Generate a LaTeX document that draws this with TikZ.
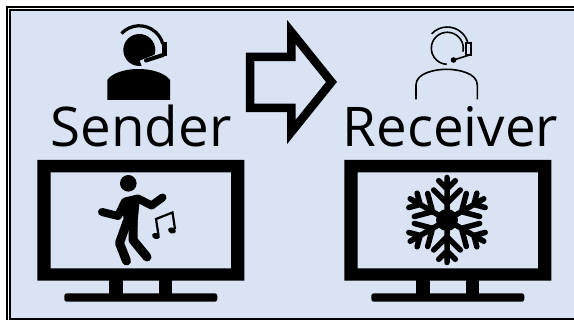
\documentclass[tikz,border=0pt]{standalone}
\usepackage{fontspec}
\setmainfont{Open Sans}
\usepackage{tikz}
\usetikzlibrary{calc}
\definecolor{panelblue}{HTML}{D9E3F3}
\tikzset{
  caption/.style={anchor=base,inner sep=0pt,font=\fontsize{54.7}{60}\selectfont},
  tvset/.pic={
    \fill[black,even odd rule] (37.3,160) rectangle (244.3,280.7) (50.7,172.3) rectangle (231,268.3); % frame of the screen
    \fill[black] (109.3,280) rectangle (122.7,294); % left leg
    \fill[black] (159,280) rectangle (172.3,294); % right leg
    \fill[black,rounded corners=2.5pt] (64.3,293.3) rectangle (217.3,301.7); % foot
  }
}
\begin{document}
\begin{tikzpicture}[x=1pt,y=-1pt]
  \useasboundingbox (0,0) rectangle (574,320);
  \clip (0,0) rectangle (574,320);
  \fill[white] (0,0) rectangle (574,320); % page
  \draw[black,line width=2pt] (7,7) rectangle (590,340); % outer border line
  \draw[black,line width=2pt,fill=panelblue] (10,10) rectangle (590,319); % inner border line and panel

  % sender headset figure
  \fill[black] (139.3,50) circle (16); % head
  \draw[panelblue,line width=7pt] (141,64) -- (161,56); % gap cut out of the head
  \draw[black,line width=3.2pt] (121.5,33.5) arc[start angle=-137,end angle=-15,radius=24.3]; % headband
  \fill[black] (162,42) rectangle (166.5,56.5); % ear cup
  \draw[black,line width=4pt,line cap=round] (163,55) -- (146,60.5); % microphone arm
  \fill[black] (107.3,100) -- (107.3,80) .. controls (112,73) and (125,69) .. (138.3,69) .. controls (152,69) and (165,73) .. (170,80) -- (170,100) -- cycle; % body

  % arrow between the two figures
  \draw[black,line width=8.5pt,miter limit=10] (250,57) -- (291.3,57) -- (291.3,32) -- (331.5,82) -- (291.3,132) -- (291.3,108) -- (250,108) -- cycle; % hollow arrow

  % receiver headset figure
  \draw[black,line width=1.6pt] (462.95,51.6) arc[start angle=12,end angle=-268,radius=16]; % head outline
  \draw[black,line width=1.6pt] (431.7,33.8) arc[start angle=-137,end angle=-15,radius=21.3]; % headband
  \draw[black,line width=1.6pt] (466,43) rectangle (470.7,55); % ear cup
  \draw[black,line width=1.6pt] (469.5,55) -- (453.5,60); % microphone arm
  \fill[black] (453.5,60) circle (2.8); % microphone
  \draw[black,line width=1.6pt] (416,99.5) -- (416,85) .. controls (416,73) and (435,69.3) .. (446.7,69.3) .. controls (458,69.3) and (477.3,73) .. (477.3,85) -- (477.3,99.5); % body outline

  % captions
  \node[caption] (sender) at (141,147) {Sender};
  \node[caption] (receiver) at (450.5,147) {Receiver};

  % television sets
  \pic at (0,0) {tvset};
  \pic at (307,0) {tvset};

  % dancer on the left screen
  \fill[black] (128.3,183.3) circle (8.3); % head
  \fill[black] (122,200) -- (140,197) -- (137,228) -- (124,226) -- cycle; % torso
  \draw[black,line width=8pt,line cap=round,line join=round] (102,212) -- (118,216) -- (125,201.5) -- (138,198.5) -- (151.5,205.5) -- (162.5,197.5); % arms and shoulders
  \draw[black,line width=9pt,line cap=round,line join=round] (127,222) -- (119.5,243) -- (126.5,261); % left leg
  \draw[black,line width=9pt,line cap=round,line join=round] (133,222) -- (133,240) -- (147,257); % right leg
  \draw[black,line width=2.2pt] (158.5,235) -- (156,219) -- (172.5,212.5) -- (175,229); % stems and beam of the note
  \fill[black,rotate around={-20:(156,236)}] (156,236) ellipse (4 and 3); % first note head
  \fill[black,rotate around={-20:(172,230.5)}] (172,230.5) ellipse (4 and 3); % second note head

  % snowflake on the right screen
  \fill[black] (447,220) circle (11); % centre
  \foreach \ang in {0,60,...,300}
    \draw[black,line width=5.5pt,line cap=round,rotate around={\ang:(447,220)}]
      (447,220) -- (447,177.5)
      (433.7,190) -- (447,203.3) -- (460.3,190) % inner twig pair
      (438.7,180.7) -- (447,189) -- (455.3,180.7); % outer twig pair
\end{tikzpicture}
\end{document}
